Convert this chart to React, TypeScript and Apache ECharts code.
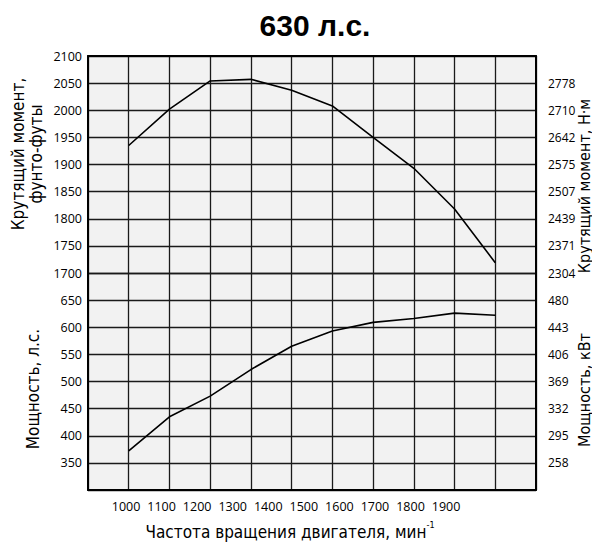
import React, { useEffect, useRef } from "react";
import * as echarts from "echarts";

// ---- data ----
const rpm = [1000, 1100, 1200, 1300, 1400, 1500, 1600, 1700, 1800, 1900];
const torqueLbFt = [1935, 2002, 2054, 2057, 2037, 2008, 1950, 1893, 1818, 1719];
const powerHp = [372, 435, 473, 522, 565, 593, 609, 616, 626, 622];

const torqueTicks = [1700, 1750, 1800, 1850, 1900, 1950, 2000, 2050, 2100];
const torqueNmLabels = ["2304", "2371", "2439", "2507", "2575", "2642", "2710", "2778"];
const powerTicks = [350, 400, 450, 500, 550, 600, 650];
const powerKwLabels = ["258", "295", "332", "369", "406", "443", "480"];

const titleText = "630 л.с.";
const xName = "Частота вращения двигателя, мин";
const xNameSup = "-1";
const yTorqueName = "Крутящий момент,\nфунто-футы";
const yPowerName = "Мощность, л.с.";
const yTorqueNmName = "Крутящий момент, Н·м";
const yPowerKwName = "Мощность, кВт";

const TICK_FONT = "'Open Sans', 'Noto Sans', sans-serif";
const NAME_FONT = "'Liberation Sans Narrow', 'DejaVu Sans Condensed', Roboto, sans-serif";

export default function App() {
  const ref = useRef<HTMLDivElement>(null);

  useEffect(() => {
    if (!ref.current) return;
    const chart = echarts.init(ref.current, undefined, { renderer: "svg" });

    const gridLine = { show: true, lineStyle: { color: "#1a1a1a", width: 1.3 } };
    const frame = { show: true, onZero: false, lineStyle: { color: "#000", width: 2 } };
    const tickLabel = { color: "#000", fontFamily: TICK_FONT, fontSize: 12.5 };

    const nameStyle = (size: number) => ({
      fill: "#000",
      fontFamily: NAME_FONT,
      fontSize: size,
      align: "center",
      verticalAlign: "middle",
    });

    const option: any = {
      animation: false,
      backgroundColor: "#fff",
      grid: [
        {
          left: 88, right: 56, top: 56, height: 217, show: true,
          backgroundColor: "#f2f2f2", borderWidth: 0,
        },
        {
          left: 88, right: 56, top: 273, height: 217, show: true,
          backgroundColor: "#f2f2f2", borderWidth: 0,
        },
      ],
      xAxis: [
        {
          type: "value", gridIndex: 0, min: 900, max: 2000, interval: 100, position: "top",
          axisLine: frame, axisTick: { show: false }, axisLabel: { show: false },
          splitLine: gridLine,
        },
        {
          type: "value", gridIndex: 1, min: 900, max: 2000, interval: 100, position: "bottom",
          axisLine: frame, axisTick: { show: false }, axisLabel: { show: false },
          splitLine: gridLine,
        },
        {
          type: "value", gridIndex: 1, min: 893, max: 2153, position: "bottom",
          axisLine: { show: false }, axisTick: { show: false }, splitLine: { show: false },
          axisLabel: { ...tickLabel, margin: 10, customValues: rpm, formatter: (v: number) => String(v) },
        },
      ],
      yAxis: [
        {
          type: "value", gridIndex: 0, min: 1700, max: 2100, interval: 50, position: "left",
          axisLine: frame, axisTick: { show: false }, splitLine: gridLine,
          axisLabel: {
            ...tickLabel, margin: 6,
            formatter: (v: number) => (torqueTicks.indexOf(v) >= 0 ? String(v) : ""),
          },
        },
        {
          type: "value", gridIndex: 0, min: 1700, max: 2100, interval: 50, position: "right",
          axisLine: frame, axisTick: { show: false }, splitLine: { show: false },
          axisLabel: {
            ...tickLabel, fontSize: 12, margin: 12,
            formatter: (v: number) => {
              const i = torqueTicks.indexOf(v);
              return i >= 0 && i < torqueNmLabels.length ? torqueNmLabels[i] : "";
            },
          },
        },
        {
          type: "value", gridIndex: 1, min: 300, max: 700, interval: 50, position: "left",
          axisLine: frame, axisTick: { show: false }, splitLine: gridLine,
          axisLabel: {
            ...tickLabel, margin: 6,
            formatter: (v: number) => (powerTicks.indexOf(v) >= 0 ? String(v) : ""),
          },
        },
        {
          type: "value", gridIndex: 1, min: 300, max: 700, interval: 50, position: "right",
          axisLine: frame, axisTick: { show: false }, splitLine: { show: false },
          axisLabel: {
            ...tickLabel, fontSize: 12, margin: 12,
            formatter: (v: number) => {
              const i = powerTicks.indexOf(v);
              return i >= 0 ? powerKwLabels[i] : "";
            },
          },
        },
      ],
      series: [
        {
          type: "line", name: "torque", xAxisIndex: 0, yAxisIndex: 0,
          data: rpm.map((r, i) => [r, torqueLbFt[i]]),
          showSymbol: false, lineStyle: { color: "#000", width: 1.6 }, z: 5,
        },
        {
          type: "line", name: "power", xAxisIndex: 1, yAxisIndex: 2,
          data: rpm.map((r, i) => [r, powerHp[i]]),
          showSymbol: false, lineStyle: { color: "#000", width: 1.6 }, z: 5,
        },
      ],
      graphic: [
        {
          type: "text", x: 315, y: 25,
          style: {
            text: titleText, fill: "#000", fontFamily: "'Liberation Sans', Arial, sans-serif",
            fontWeight: "bold", fontSize: 30, align: "center", verticalAlign: "middle",
          },
        },
        {
          type: "text", x: 27, y: 154, rotation: Math.PI / 2,
          style: { text: yTorqueName, lineHeight: 18, ...nameStyle(17) },
        },
        {
          type: "text", x: 33, y: 389, rotation: Math.PI / 2,
          style: { text: yPowerName, ...nameStyle(17) },
        },
        {
          type: "text", x: 584, y: 186, rotation: Math.PI / 2,
          style: { text: yTorqueNmName, ...nameStyle(16) },
        },
        {
          type: "text", x: 584, y: 390, rotation: Math.PI / 2,
          style: { text: yPowerKwName, ...nameStyle(16) },
        },
        {
          type: "text", x: 290, y: 530,
          style: {
            text: `{a|${xName}}{s|${xNameSup}}`,
            align: "center", verticalAlign: "middle",
            rich: {
              a: { fontFamily: NAME_FONT, fontSize: 17, fill: "#000", lineHeight: 20, verticalAlign: "bottom" },
              s: { fontFamily: NAME_FONT, fontSize: 9, fill: "#000", lineHeight: 20, verticalAlign: "top" },
            },
          },
        },
      ],
    };

    chart.setOption(option);
    return () => chart.dispose();
  }, []);

  return (
    <div
      ref={ref}
      style={{ position: "fixed", left: 0, top: 0, width: 592, height: 543 }}
    />
  );
}
